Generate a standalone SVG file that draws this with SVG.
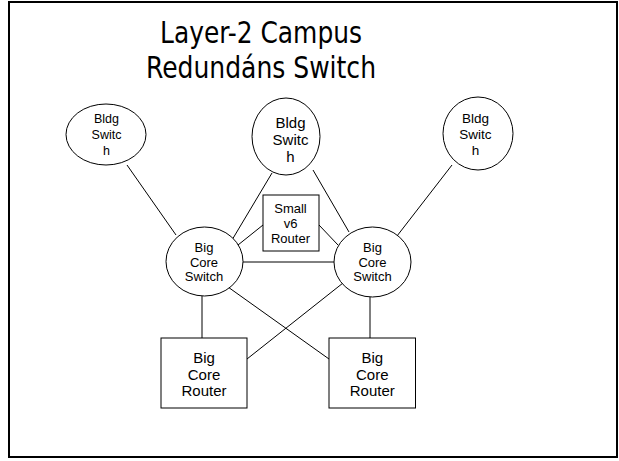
<svg xmlns="http://www.w3.org/2000/svg" width="619" height="461" viewBox="0 0 619 461">
  <style>
    .frame { fill: #ffffff; stroke: #000000; stroke-width: 2; }
    .shape { fill: #ffffff; stroke: #000000; stroke-width: 1; }
    .link { stroke: #000000; stroke-width: 1; fill: none; }
    .title { font-family: "DejaVu Sans Condensed", "DejaVu Sans", sans-serif; font-size: 30px; fill: #000000; text-anchor: middle; }
    .lbl { font-family: "Liberation Sans", Arial, sans-serif; fill: #000000; text-anchor: middle; }
  </style>

  <rect class="frame" x="9" y="2" width="608" height="455"/>

  <g id="title">
    <text class="title" x="261" y="43" textLength="202" lengthAdjust="spacingAndGlyphs">Layer-2 Campus</text>
    <text class="title" x="261" y="78" textLength="230" lengthAdjust="spacingAndGlyphs">Redundáns Switch</text>
  </g>

  <g id="connectors">
    <line class="link" x1="127" y1="165" x2="176" y2="235"/>
    <line class="link" x1="272" y1="173" x2="232" y2="240"/>
    <line class="link" x1="313" y1="170" x2="349" y2="232"/>
    <line class="link" x1="452" y1="165" x2="397" y2="236"/>
    <line class="link" x1="263" y1="225" x2="238" y2="245"/>
    <line class="link" x1="319" y1="225" x2="338" y2="245"/>
    <line class="link" x1="243" y1="262" x2="334" y2="262"/>
    <line class="link" x1="202" y1="296" x2="202" y2="338"/>
    <line class="link" x1="370" y1="297" x2="370" y2="338"/>
    <line class="link" x1="228" y1="287" x2="329" y2="359"/>
    <line class="link" x1="343" y1="283" x2="247" y2="359"/>
  </g>

  <g id="bldg-left">
    <ellipse class="shape" cx="106" cy="134.5" rx="40" ry="30.5"/>
    <text class="lbl" font-size="12.5" x="106.5" y="123">Bldg</text>
    <text class="lbl" font-size="12.5" x="106.5" y="139">Switc</text>
    <text class="lbl" font-size="12.5" x="106.5" y="155">h</text>
  </g>

  <g id="bldg-center">
    <ellipse class="shape" cx="286" cy="136.5" rx="34" ry="38.5"/>
    <text class="lbl" font-size="15" x="290.5" y="128">Bldg</text>
    <text class="lbl" font-size="15" x="290.5" y="145">Switc</text>
    <text class="lbl" font-size="15" x="290.5" y="161.5">h</text>
  </g>

  <g id="bldg-right">
    <ellipse class="shape" cx="478" cy="133.5" rx="35" ry="36.5"/>
    <text class="lbl" font-size="13.5" x="475.5" y="122.5">Bldg</text>
    <text class="lbl" font-size="13.5" x="475.5" y="139">Switc</text>
    <text class="lbl" font-size="13.5" x="475.5" y="155">h</text>
  </g>

  <g id="small-v6-router">
    <rect class="shape" x="263" y="195" width="56" height="56"/>
    <text class="lbl" font-size="13" x="290.5" y="213">Small</text>
    <text class="lbl" font-size="13" x="290.5" y="227.5">v6</text>
    <text class="lbl" font-size="13" x="290.5" y="242.5">Router</text>
  </g>

  <g id="core-switch-left">
    <ellipse class="shape" cx="204.5" cy="261.5" rx="38.5" ry="34.5"/>
    <text class="lbl" font-size="13" x="204" y="251.5">Big</text>
    <text class="lbl" font-size="13" x="204" y="266.5">Core</text>
    <text class="lbl" font-size="13" x="204" y="281">Switch</text>
  </g>

  <g id="core-switch-right">
    <ellipse class="shape" cx="372.5" cy="262" rx="38.5" ry="35"/>
    <text class="lbl" font-size="13" x="372.5" y="251.5">Big</text>
    <text class="lbl" font-size="13" x="372.5" y="266.5">Core</text>
    <text class="lbl" font-size="13" x="372.5" y="281">Switch</text>
  </g>

  <g id="core-router-left">
    <rect class="shape" x="161" y="338" width="86" height="70"/>
    <text class="lbl" font-size="15" x="204" y="363">Big</text>
    <text class="lbl" font-size="15" x="204" y="379.5">Core</text>
    <text class="lbl" font-size="15" x="204" y="396">Router</text>
  </g>

  <g id="core-router-right">
    <rect class="shape" x="329" y="338" width="86.5" height="70"/>
    <text class="lbl" font-size="15" x="372.3" y="363">Big</text>
    <text class="lbl" font-size="15" x="372.3" y="379.5">Core</text>
    <text class="lbl" font-size="15" x="372.3" y="396">Router</text>
  </g>
</svg>
